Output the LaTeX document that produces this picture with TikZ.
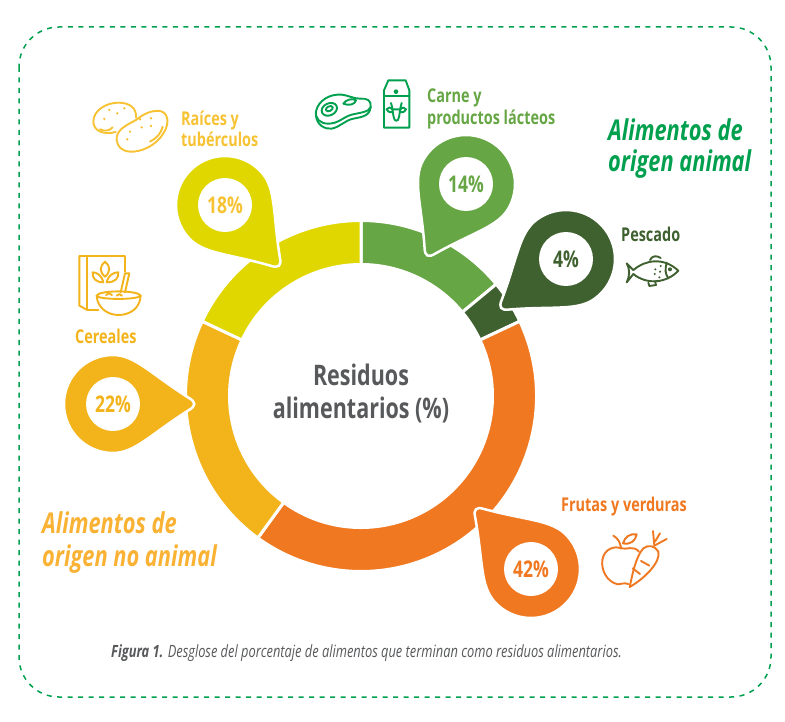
\documentclass[tikz,border=0pt]{standalone}
\usepackage{fontspec}
\newfontfamily\cond[FakeStretch=0.76]{Open Sans}
\definecolor{cyel}{HTML}{E1D700}
\definecolor{cgrn}{HTML}{66A644}
\definecolor{cdrk}{HTML}{3F6130}
\definecolor{cora}{HTML}{F07820}
\definecolor{camb}{HTML}{F3B41B}
\definecolor{cgold}{HTML}{F7C334}
\definecolor{cfrm}{HTML}{00A04F}
\definecolor{cnon}{HTML}{F9B233}
\definecolor{cgry}{HTML}{58595B}
\tikzset{
 lbl/.style={anchor=base west,inner sep=0pt,font=\cond\bfseries\fontsize{19}{19}\selectfont},
 big/.style={anchor=base west,inner sep=0pt,font=\cond\bfseries\itshape\fontsize{28.7}{28.7}\selectfont},
 ctr/.style={anchor=base,inner sep=0pt,text=cgry,font=\cond\bfseries\fontsize{28.3}{28.3}\selectfont},
 hole/.style={circle,fill=white,minimum size=54pt,inner sep=0pt,font=\cond\bfseries\fontsize{23}{23}\selectfont},
 ico/.style={line width=1.9pt,line cap=round,line join=round},
 frame/.style={draw=cfrm,line width=1.5pt,dash pattern=on 5pt off 5.5pt,rounded corners=40pt},
}
\newcommand{\pinat}[4]{% x,y,angle,colour
 \begin{scope}[shift={(#1,#2)},rotate=#3]
  \fill[#4,draw=white,line width=2.5pt]
   (0,-49) .. controls (22,-49) and (38,-30) .. (76,-6)
   .. controls (83,-2) and (83,2) .. (76,6)
   .. controls (38,30) and (22,49) .. (0,49)
   arc[start angle=270,end angle=90,radius=49pt] -- cycle;
 \end{scope}}
\newcommand{\sect}[3]{% from, to clockwise from top, colour
 \pgfmathsetmacro{\sa}{90-#1}\pgfmathsetmacro{\sb}{90-#2}
 \fill[#3,draw=white,line width=3pt]
  ([shift={(c)}]\sa:175.5pt) arc[start angle=\sa,end angle=\sb,radius=175.5pt]
  -- ([shift={(c)}]\sb:131.5pt) arc[start angle=\sb,end angle=\sa,radius=131.5pt] -- cycle;}
\begin{document}
\begin{tikzpicture}[x=1pt,y=-1pt]
\useasboundingbox (0,0) rectangle (785,722);
\fill[white] (0,0) rectangle (785,722);
\draw[frame] (19,27) rectangle (771,697);
\coordinate (c) at (361,396);
\sect{0}{50.4}{cgrn}
\sect{50.4}{64.8}{cdrk}
\sect{64.8}{216}{cora}
\sect{216}{295.2}{camb}
\sect{295.2}{360}{cyel}
\pinat{225}{205}{-48.4}{cyel}
\pinat{466}{184}{-118.4}{cgrn}
\pinat{566}{259}{-143}{cdrk}
\pinat{531}{569}{132.6}{cora}
\pinat{113}{404}{0}{camb}
\node[hole,text=cgold] (p18) at (225,205) {18\%};
\node[hole,text=cgrn] (p14) at (466,184) {14\%};
\node[hole,text=cdrk] (p4) at (566,259) {4\%};
\node[hole,text=cora] (p42) at (531,569) {42\%};
\node[hole,text=camb] (p22) at (113,404) {22\%};
\node[lbl,text=cgold] (t1) at (181,126) {Raíces y};
\node[lbl,text=cgold] (t2) at (181,147) {tubérculos};
\node[lbl,text=cgrn] (t3) at (427,103) {Carne y};
\node[lbl,text=cgrn] (t4) at (427,125) {productos lácteos};
\node[lbl,text=cdrk] (t5) at (621,242) {Pescado};
\node[lbl,text=cora] (t6) at (561,511) {Frutas y verduras};
\node[lbl,text=camb] (t7) at (75,344) {Cereales};
\node[big,text=cfrm] (t8) at (608,141) {Alimentos de};
\node[big,text=cfrm] (t9) at (608,172) {origen animal};
\node[big,text=cnon] (t10) at (42,533) {Alimentos de};
\node[big,text=cnon] (t11) at (42,566) {origen no animal};
\node[ctr] (t12) at (361,385) {Residuos};
\node[ctr] (t13) at (361,418) {alimentarios (\%)};
\node[anchor=base west,inner sep=0pt,text=cgry,font=\cond\itshape\fontsize{16.9}{16.9}\selectfont] (cap) at (111,657) {{\bfseries Figura 1.} Desglose del porcentaje de alimentos que terminan como residuos alimentarios.};
% potatoes
\begin{scope}[shift={(85,90)},scale=1/3,ico,cgold]
 \draw (92,126) .. controls (60,135) and (25,125) .. (25,95) .. controls (25,60) and (65,38) .. (100,38) .. controls (135,38) and (155,55) .. (153,82);
 \draw (45,118) .. controls (58,125) and (75,122) .. (83,112);
 \draw (95,150) .. controls (92,120) and (125,105) .. (153,90) .. controls (175,72) and (200,60) .. (225,63) .. controls (250,68) and (255,100) .. (235,130) .. controls (215,165) and (170,187) .. (135,185) .. controls (110,183) and (97,170) .. (95,150) -- cycle;
 \draw (195,155) .. controls (215,145) and (228,130) .. (233,110);
 \foreach \p in {(58,87),(73,60),(97,70),(118,55),(165,88),(135,125),(170,112),(198,85),(198,108),(127,148)} \fill \p circle[radius=4];
\end{scope}
% cereal
\begin{scope}[shift={(70,245)},scale=1/3,ico,camb]
 \draw (85,195) -- (52,195) -- (28,182) -- (28,33) -- (165,33) -- (165,80);
 \draw (52,33) -- (52,195);
 \draw (105,50) .. controls (88,65) and (88,80) .. (105,95) .. controls (122,80) and (122,65) .. (105,50) -- cycle;
 \draw (100,112) .. controls (95,90) and (80,82) .. (68,82) .. controls (66,100) and (78,112) .. (100,112) -- cycle;
 \draw (110,112) .. controls (115,90) and (130,82) .. (145,82) .. controls (147,100) and (135,112) .. (110,112) -- cycle;
 \draw (152,142) -- (165,85) -- (178,85) -- (165,142);
 \draw (80,152) .. controls (85,135) and (205,135) .. (212,152) .. controls (205,165) and (85,165) .. (80,152) -- cycle;
 \draw (80,152) .. controls (82,190) and (115,210) .. (145,210) .. controls (180,210) and (210,190) .. (212,152);
 \draw (108,150) .. controls (112,143) and (122,143) .. (126,150);
 \draw (140,152) .. controls (144,146) and (152,146) .. (156,152);
\end{scope}
% meat
\begin{scope}[shift={(310,72)},scale=1/3,ico,cfrm]
 \draw (18,118) .. controls (25,85) and (60,65) .. (95,68) .. controls (115,70) and (130,80) .. (150,80) .. controls (170,78) and (185,85) .. (182,105) .. controls (178,120) and (150,122) .. (125,128) .. controls (100,135) and (85,155) .. (55,155) .. controls (30,155) and (15,140) .. (18,118) -- cycle;
 \draw (18,130) .. controls (20,160) and (45,172) .. (65,170) .. controls (90,165) and (105,145) .. (130,140) .. controls (155,135) and (180,132) .. (182,105);
 \draw[rotate around={25:(58,112)}] (58,112) ellipse[x radius=24,y radius=18];
 \draw[rotate around={25:(58,110)}] (58,110) ellipse[x radius=11,y radius=7];
 \draw (100,95) .. controls (108,82) and (130,78) .. (138,85) .. controls (135,98) and (115,102) .. (100,95) -- cycle;
\end{scope}
% milk
\begin{scope}[shift={(310,72)},scale=1/3,ico,cfrm]
 \draw (222,55) -- (235,25) -- (287,25) -- (298,55) -- (298,167) -- (222,167) -- cycle;
 \draw (222,73) -- (298,73);
 \fill (258,59) circle[radius=7];
 \draw (247,112) -- (271,112) -- (267,135) .. controls (265,150) and (253,150) .. (251,135) -- cycle;
 \draw (247,112) .. controls (240,105) and (235,105) .. (230,112) .. controls (236,122) and (242,122) .. (249,120);
 \draw (271,112) .. controls (278,105) and (283,105) .. (288,112) .. controls (282,122) and (276,122) .. (269,120);
 \draw (247,108) -- (243,93);
 \draw (271,108) -- (275,93);
\end{scope}
% fish
\begin{scope}[shift={(620,250)},scale=1/3,cdrk,ico]
 \draw (40,60) .. controls (75,30) and (130,20) .. (175,62) .. controls (140,100) and (80,105) .. (40,72);
 \draw (40,60) -- (20,40) .. controls (30,60) and (30,75) .. (20,97) -- (40,72);
 \draw (90,30) .. controls (95,18) and (110,15) .. (122,24);
 \draw (85,98) -- (88,108) -- (108,105) -- (105,93);
 \draw (140,38) .. controls (135,60) and (135,70) .. (145,85);
 \fill (150,58) circle[radius=6];
 \foreach \p in {(122,48),(106,58),(120,65),(104,72),(118,82),(112,93)} \fill \p circle[radius=3.5];
\end{scope}
% apple and carrot
\begin{scope}[shift={(595,525)},scale=1/3,cora,ico]
 \draw (100,177) .. controls (85,172) and (80,178) .. (68,178) .. controls (35,170) and (18,135) .. (22,105) .. controls (28,70) and (60,62) .. (78,70) .. controls (95,75) and (115,60) .. (132,80);
 \draw (78,68) .. controls (75,50) and (68,40) .. (55,32);
 \draw (84,55) .. controls (90,35) and (105,25) .. (125,28) .. controls (122,48) and (105,60) .. (84,55) -- cycle;
 \draw (104,186) .. controls (112,150) and (122,95) .. (145,70) .. controls (160,58) and (180,62) .. (190,80) .. controls (198,110) and (150,160) .. (104,186) -- cycle;
 \draw (138,108) -- (163,122);
 \draw (113,130) -- (135,147);
 \draw (174,18) -- (178,62);
 \draw (178,62) -- (215,42);
 \draw (180,50) -- (195,25);
\end{scope}
\end{tikzpicture}
\end{document}
